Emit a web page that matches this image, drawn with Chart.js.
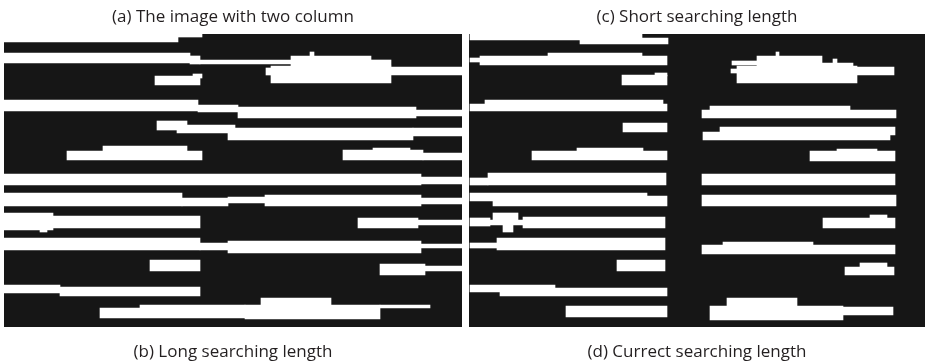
<!DOCTYPE html>
<html>
<head>
<meta charset="utf-8">
<script src="https://cdn.jsdelivr.net/npm/chart.js@4.4.0/dist/chart.umd.min.js"></script>
<style>
  html, body { margin: 0; padding: 0; background: #fff; }
  #wrap { position: relative; width: 926px; height: 364px; }
  canvas { position: absolute; top: 0; }
  #left { left: 0; }
  #right { left: 463px; }
</style>
</head>
<body>
<div id="wrap">
  <canvas id="left" width="463" height="364"></canvas>
  <canvas id="right" width="463" height="364"></canvas>
</div>
<script>
// captions above / below each panel
const captionsTop = ['(a) The image with two column', '(c) Short searching length'];
const captionsBottom = ['(b) Long searching length', '(d) Currect searching length'];

// white runs, in image pixels: [xStart, xEnd, yTop, yBottom]
const stripesLong = [
    [4, 178, 34, 42], [175, 202, 34, 37],
    [4, 190, 53, 63], [190, 200, 56, 64], [200, 291, 60, 64],
    [266, 275, 68, 75], [271, 391, 66, 83], [291, 371, 56, 66], [310, 314, 52, 57],
    [371, 391, 60, 66], [391, 462, 67, 75],
    [155, 200, 76, 85], [193, 202, 74, 78],
    [4, 198, 100, 111], [198, 238, 105, 112], [238, 416, 107, 118], [416, 462, 110, 116],
    [157, 187, 121, 130], [177, 235, 125, 133], [228, 413, 128, 140], [413, 462, 128, 136],
    [103, 187, 146, 152], [67, 202, 151, 160],
    [373, 410, 148, 152], [343, 423, 150, 160], [423, 462, 153, 160],
    [4, 421, 174, 185], [421, 462, 177, 184],
    [4, 182, 193, 206], [182, 228, 198, 206], [228, 265, 197, 203], [265, 421, 195, 206], [421, 462, 198, 204],
    [4, 53, 213, 230], [53, 200, 216, 228], [40, 47, 228, 232],
    [358, 418, 218, 228], [418, 462, 220, 225],
    [4, 200, 238, 250], [200, 235, 243, 250], [228, 421, 241, 253], [421, 462, 244, 248],
    [150, 200, 260, 271], [380, 425, 264, 275], [425, 462, 266, 271],
    [4, 60, 285, 293], [60, 200, 287, 296],
    [100, 245, 308, 318], [140, 245, 305, 310], [261, 331, 298, 306], [245, 380, 305, 319], [380, 430, 305, 308]
];

const stripesShort = [
    // left column
    [470, 642, 34, 40], [580, 668, 38, 44],
    [548, 642, 53, 57], [480, 667, 56, 65], [470, 480, 58, 62],
    [622, 667, 75, 85], [655, 667, 73, 76],
    [485, 663, 100, 106], [470, 667, 104, 111],
    [623, 667, 123, 132],
    [577, 643, 148, 152], [532, 667, 151, 160],
    [488, 666, 173, 185], [470, 488, 178, 185],
    [470, 647, 193, 201], [493, 667, 196, 206],
    [493, 518, 213, 220], [470, 490, 218, 226], [490, 523, 220, 225], [523, 665, 217, 228], [503, 513, 225, 232],
    [470, 497, 243, 248], [497, 665, 238, 250],
    [617, 665, 260, 271],
    [470, 555, 285, 292], [500, 667, 288, 296],
    [566, 667, 306, 317],
    // right column
    [732, 762, 61, 65], [731, 740, 69, 73], [737, 857, 66, 83], [757, 822, 56, 67], [776, 779, 52, 57],
    [822, 853, 63, 67], [833, 837, 59, 64], [853, 894, 67, 75],
    [710, 850, 106, 112], [702, 896, 110, 118],
    [720, 895, 127, 135], [703, 890, 132, 140],
    [837, 877, 149, 153], [810, 895, 151, 161],
    [702, 895, 174, 185],
    [702, 896, 195, 206],
    [870, 887, 215, 219], [823, 895, 218, 228],
    [723, 813, 242, 247], [702, 895, 245, 254],
    [860, 887, 263, 268], [845, 894, 267, 275],
    [727, 797, 298, 308], [710, 843, 306, 320], [843, 893, 307, 315]
];

// image extents of each panel
const xLong = [4, 462];
const xShort = [469, 925];
const yImage = [34, 327];

const BLACK = '#161616';
const WHITE = '#ffffff';
const TEXT = '#231f20';

const panelBg = {
    id: 'panelBg',
    beforeDatasetsDraw(chart) {
        const {ctx, chartArea: a} = chart;
        ctx.save();
        ctx.fillStyle = BLACK;
        ctx.fillRect(a.left, a.top, a.width, a.height);
        ctx.restore();
    }
};

const captionFont = {family: 'Open Sans', size: 17, weight: 'normal', lineHeight: '20px'};

// chart area is sized so that one image pixel is one screen pixel
const makePanel = (canvas, stripes, xRange, top, bottom, padLeft) => {
    const datasets = stripes.map(([x0, x1, y0, y1]) => ({
        data: [{x: [x0, x1], y: (y0 + y1) / 2}],
        barThickness: y1 - y0,
        backgroundColor: WHITE,
        borderWidth: 0,
        stack: 'img',
        clip: 0
    }));

    return new Chart(canvas, {
        type: 'bar',
        data: {datasets},
        options: {
            indexAxis: 'y',
            responsive: false,
            animation: false,
            events: [],
            layout: {padding: {left: padLeft, right: 1, top: 0, bottom: 0}},
            scales: {
                x: {type: 'linear', min: xRange[0], max: xRange[1], display: false, stacked: false, offset: false, beginAtZero: false},
                y: {type: 'linear', min: yImage[0], max: yImage[1], reverse: true, display: false, offset: false}
            },
            plugins: {
                legend: {display: false},
                tooltip: {enabled: false},
                title: {display: true, text: top, color: TEXT, font: captionFont, padding: {top: 7, bottom: 7}},
                subtitle: {display: true, position: 'bottom', text: bottom, color: TEXT, font: captionFont, padding: {top: 15, bottom: 2}}
            }
        },
        plugins: [panelBg]
    });
};

makePanel(document.getElementById('left'), stripesLong, xLong, captionsTop[0], captionsBottom[0], 4);
makePanel(document.getElementById('right'), stripesShort, xShort, captionsTop[1], captionsBottom[1], 6);
</script>
</body>
</html>
